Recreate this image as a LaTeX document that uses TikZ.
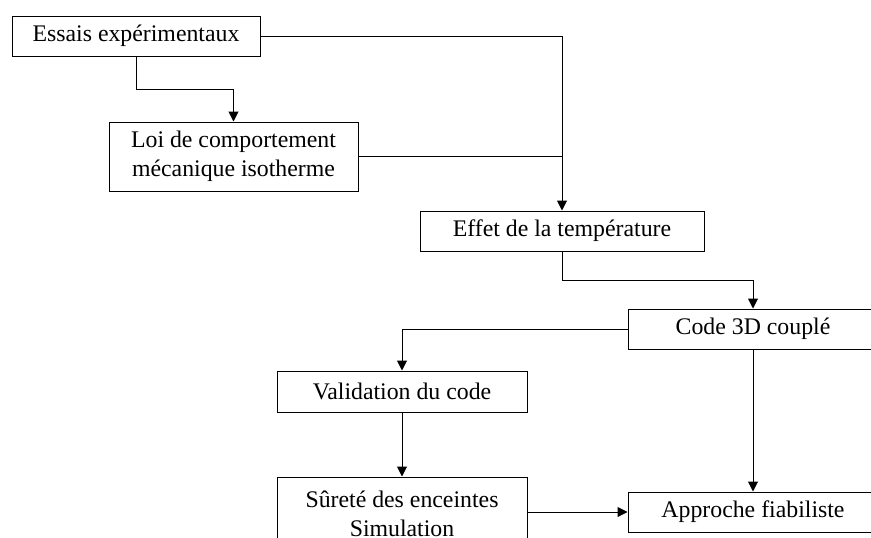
\documentclass[tikz,border=0pt]{standalone}
\usepackage{fontspec}
\setmainfont{Liberation Serif}
\usetikzlibrary{arrows.meta}
\begin{document}
\begin{tikzpicture}[x=1pt,y=-1pt,
  box/.style={draw=black,line width=1pt,rectangle,inner sep=0pt,align=center,
    font=\fontsize{23.8}{28.5}\selectfont},
  conn/.style={line width=1pt,-{Triangle[length=10pt,width=10pt]}},
  plain/.style={line width=1pt}]
\useasboundingbox (0,0) rectangle (871,538);
\clip (0,0) rectangle (871,538);
\node[box,minimum width=248pt,minimum height=40pt] (essais) at (136,36) {Essais expérimentaux};
\node[box,minimum width=249pt,minimum height=69pt] (loi) at (233.5,156.5) {Loi de comportement\\mécanique isotherme};
\node[box,minimum width=284pt,minimum height=40pt] (effet) at (562,231) {Effet de la température};
\node[box,minimum width=250pt,minimum height=40pt] (code) at (753,329) {Code 3D couplé};
\node[box,minimum width=250pt,minimum height=41pt] (valid) at (402,391.5) {Validation du code};
\node[box,minimum width=250pt,minimum height=74pt] (surete) at (402,514) {Sûreté des enceintes\\Simulation};
\node[box,minimum width=250pt,minimum height=40pt] (approche) at (753,512) {Approche fiabiliste};
\coordinate (c1) at (136,89);
\coordinate (c2) at (562,280);
\draw[conn] (essais.south) -- (c1) -| (loi.north);
\draw[conn] (essais.east) -| (effet.north);
\draw[plain] (loi.east) -- (loi.east -| effet.north);
\draw[conn] (effet.south) -- (c2) -| (code.north);
\draw[conn] (code.west) -| (valid.north);
\draw[conn] (code.south) -- (approche.north);
\draw[conn] (valid.south) -- (surete.north);
\draw[conn] (surete.east |- approche.west) -- (approche.west);
\end{tikzpicture}
\end{document}
